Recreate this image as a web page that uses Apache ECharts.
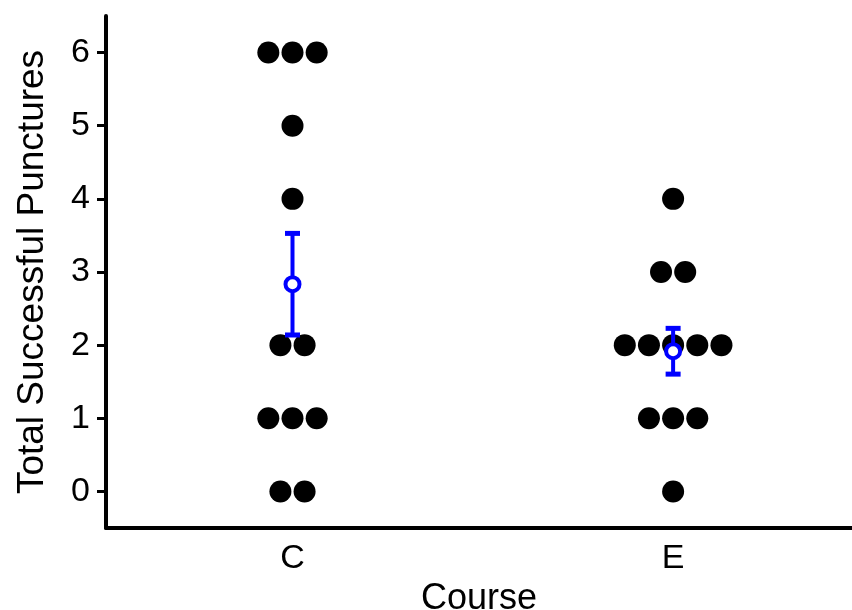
<!DOCTYPE html>
<html>
<head>
<meta charset="utf-8">
<script src="https://cdn.jsdelivr.net/npm/echarts@6/dist/echarts.min.js"></script>
<style>html,body{margin:0;padding:0;background:#fff}#c{width:852px;height:610px}</style>
</head>
<body>
<div id="c"></div>
<script>
const categories = ['C', 'E'];
const cValues = [6, 6, 6, 5, 4, 2, 2, 1, 1, 1, 0, 0];
const eValues = [4, 3, 3, 2, 2, 2, 2, 2, 1, 1, 1, 0];
const yTicks = [0, 1, 2, 3, 4, 5, 6];
const xTitle = 'Course';
const yTitle = 'Total Successful Punctures';

const groups = [cValues, eValues];
const dotStep = 0.0635; // horizontal stacking step in x units

const dots = [];
const means = [];
const bars = [];
groups.forEach(function (vals, g) {
  const pos = g + 1;
  const counts = {};
  vals.forEach(function (v) { counts[v] = (counts[v] || 0) + 1; });
  Object.keys(counts).forEach(function (k) {
    const n = counts[k];
    for (let i = 0; i < n; i++) {
      dots.push([pos + (i - (n - 1) / 2) * dotStep, Number(k)]);
    }
  });
  const n = vals.length;
  const mean = vals.reduce(function (a, b) { return a + b; }, 0) / n;
  const sd = Math.sqrt(vals.reduce(function (a, b) { return a + (b - mean) * (b - mean); }, 0) / (n - 1));
  const se = sd / Math.sqrt(n);
  means.push([pos, mean]);
  bars.push([pos, mean - se, mean + se]);
});

const chart = echarts.init(document.getElementById('c'), null, { renderer: 'canvas' });
const font = 'Liberation Sans, Arial, sans-serif';
chart.setOption({
  animation: false,
  backgroundColor: '#fff',
  grid: { left: 106, right: 0, top: 16, bottom: 82, containLabel: false, outerBoundsMode: 'none' },
  xAxis: {
    type: 'value', min: 0.51, max: 2.47,
    name: xTitle, nameLocation: 'middle', nameGap: 43,
    nameTextStyle: { fontSize: 36, color: '#000', fontFamily: font },
    axisLine: { show: true, onZero: false, lineStyle: { color: '#000', width: 4 } },
    axisTick: { show: false },
    splitLine: { show: false },
    axisLabel: {
      customValues: [1, 2],
      formatter: function (v) { return categories[Math.round(v) - 1]; },
      fontSize: 34, color: '#000', fontFamily: font, margin: 14
    }
  },
  yAxis: {
    type: 'value', min: -0.5, max: 6.5,
    name: yTitle, nameLocation: 'middle', nameGap: 55, nameRotate: 90,
    nameTextStyle: { fontSize: 37, color: '#000', fontFamily: font },
    axisLine: { show: true, onZero: false, lineStyle: { color: '#000', width: 4 } },
    axisTick: { show: true, customValues: yTicks, length: 9, lineStyle: { color: '#000', width: 3 } },
    splitLine: { show: false },
    axisLabel: {
      customValues: yTicks,
      fontSize: 34, color: '#000', fontFamily: font, margin: 16
    }
  },
  series: [
    {
      type: 'scatter', data: dots, symbol: 'circle', symbolSize: 22,
      itemStyle: { color: '#000', opacity: 1 }, z: 2,
      emphasis: { disabled: true }
    },
    {
      type: 'custom', data: bars, z: 3,
      renderItem: function (params, api) {
        const x = api.value(0);
        const lo = api.coord([x, api.value(1)]);
        const hi = api.coord([x, api.value(2)]);
        const cw = 7.5;
        const st = { stroke: '#0000FF', lineWidth: 4 };
        return {
          type: 'group', children: [
            { type: 'line', shape: { x1: lo[0], y1: lo[1], x2: hi[0], y2: hi[1] }, style: st },
            { type: 'line', shape: { x1: lo[0] - cw, y1: lo[1], x2: lo[0] + cw, y2: lo[1] }, style: { stroke: '#0000FF', lineWidth: 5 } },
            { type: 'line', shape: { x1: hi[0] - cw, y1: hi[1], x2: hi[0] + cw, y2: hi[1] }, style: { stroke: '#0000FF', lineWidth: 5 } }
          ]
        };
      }
    },
    {
      type: 'scatter', data: means, symbol: 'circle', symbolSize: 14, z: 4,
      itemStyle: { color: '#fff', borderColor: '#0000FF', borderWidth: 4, opacity: 1 },
      emphasis: { disabled: true }
    }
  ]
});
</script>
</body>
</html>
